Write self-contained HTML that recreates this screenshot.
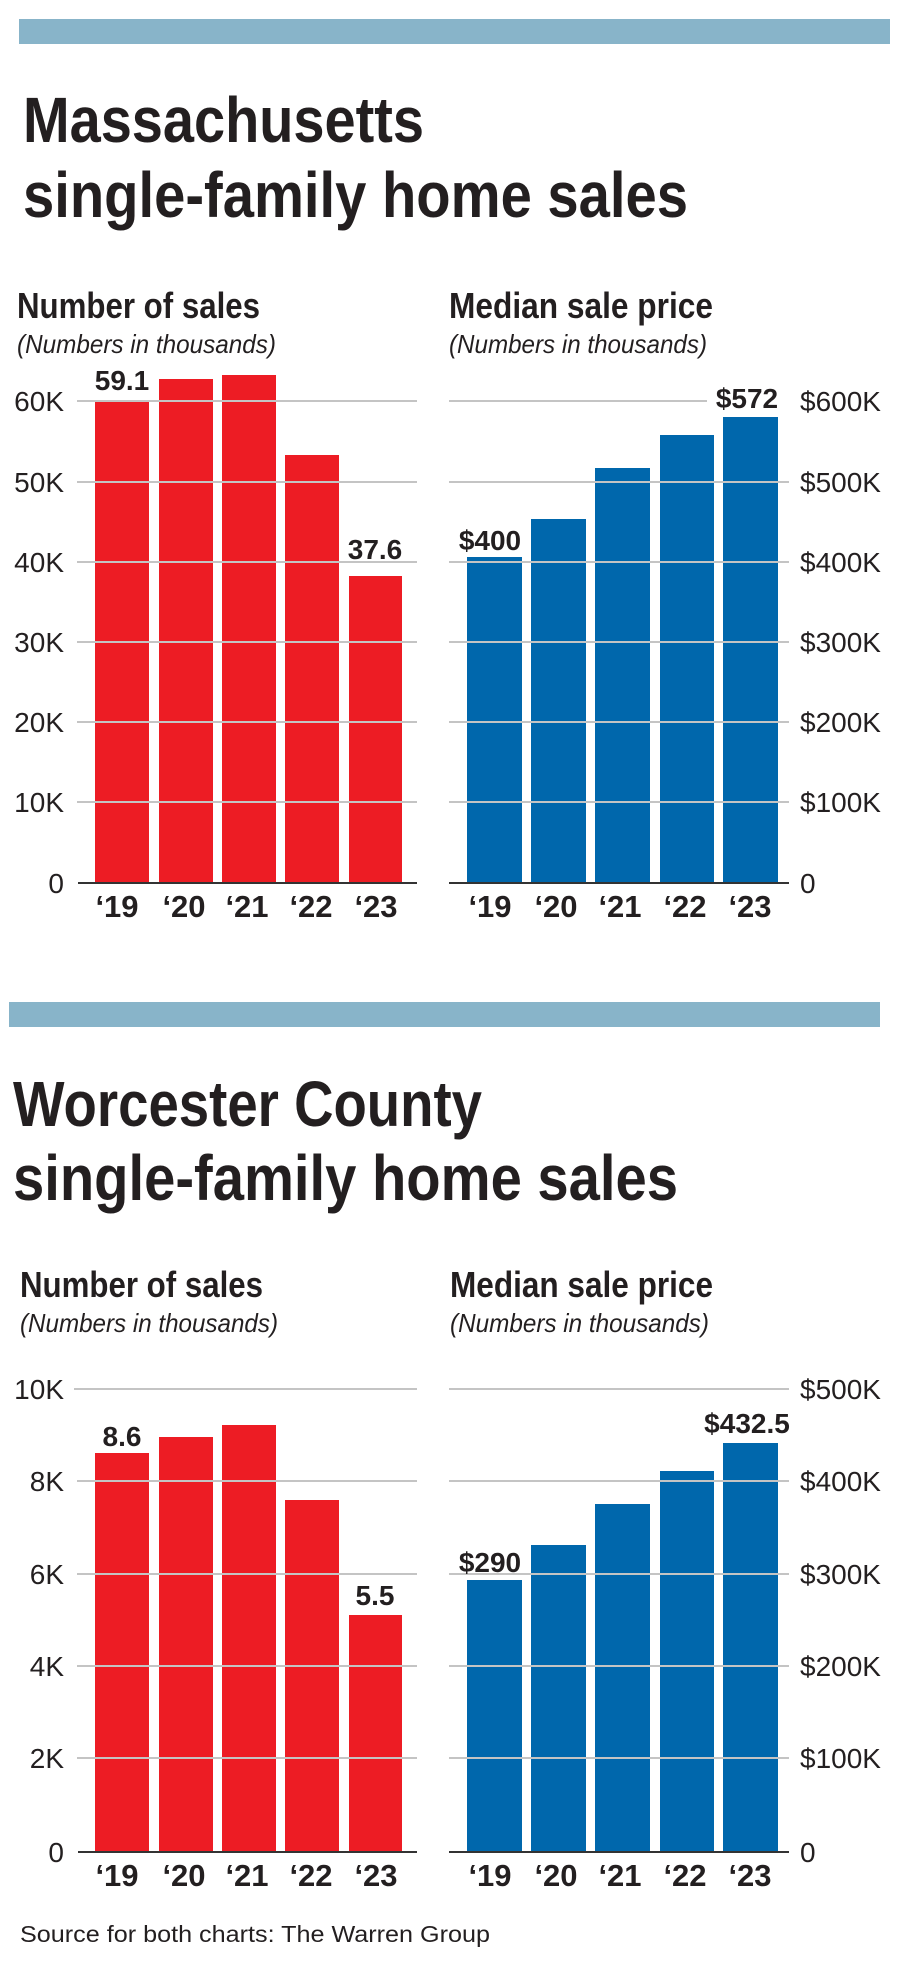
<!DOCTYPE html>
<html><head><meta charset="utf-8"><style>
html,body{margin:0;padding:0;background:#fff;}
svg{display:block;}
text{font-family:"Liberation Sans",sans-serif;fill:#231f20;}
.t{font-weight:bold;font-size:64px;}
.h{font-weight:bold;font-size:36px;}
.s{font-style:italic;font-size:26px;}
.k{font-size:28px;}
.v{font-weight:bold;font-size:28px;}
.x{font-weight:bold;font-size:31px;}
</style></head><body>
<svg width="900" height="1967" viewBox="0 0 900 1967" xmlns="http://www.w3.org/2000/svg">
<rect x="19" y="19" width="871" height="25" fill="#88b4c9"/>
<text class="t" x="23" y="142" textLength="401" lengthAdjust="spacingAndGlyphs">Massachusetts</text>
<text class="t" x="23" y="217" textLength="665" lengthAdjust="spacingAndGlyphs">single-family home sales</text>
<text class="h" x="17" y="318" textLength="243" lengthAdjust="spacingAndGlyphs">Number of sales</text>
<text class="s" x="17" y="353" textLength="259" lengthAdjust="spacingAndGlyphs">(Numbers in thousands)</text>
<text class="h" x="449" y="318" textLength="264" lengthAdjust="spacingAndGlyphs">Median sale price</text>
<text class="s" x="449" y="353" textLength="258" lengthAdjust="spacingAndGlyphs">(Numbers in thousands)</text>

<g fill="#ed1c24">
<rect x="95" y="401" width="54" height="482"/>
<rect x="159" y="379" width="54" height="504"/>
<rect x="222" y="375" width="54" height="508"/>
<rect x="285" y="455" width="54" height="428"/>
<rect x="349" y="576" width="53" height="307"/>
</g>
<g stroke="#c4c4c4" stroke-width="2">
<line x1="77" y1="401" x2="417" y2="401"/>
<line x1="77" y1="482" x2="417" y2="482"/>
<line x1="77" y1="562" x2="417" y2="562"/>
<line x1="77" y1="642" x2="417" y2="642"/>
<line x1="77" y1="722" x2="417" y2="722"/>
<line x1="77" y1="802" x2="417" y2="802"/>
</g>
<line x1="78" y1="883" x2="417" y2="883" stroke="#333" stroke-width="2"/>
<g text-anchor="end">
<text class="k" x="64" y="411">60K</text>
<text class="k" x="64" y="492">50K</text>
<text class="k" x="64" y="572">40K</text>
<text class="k" x="64" y="652">30K</text>
<text class="k" x="64" y="732">20K</text>
<text class="k" x="64" y="812">10K</text>
<text class="k" x="64" y="893">0</text>
</g>
<text class="v" x="122" y="390" text-anchor="middle">59.1</text>
<text class="v" x="375" y="559" text-anchor="middle">37.6</text>
<g text-anchor="middle">
<text class="x" x="117" y="917">‘19</text>
<text class="x" x="184" y="917">‘20</text>
<text class="x" x="247" y="917">‘21</text>
<text class="x" x="311" y="917">‘22</text>
<text class="x" x="376" y="917">‘23</text>
</g>

<g fill="#0067ac">
<rect x="467" y="557" width="55" height="326"/>
<rect x="531" y="519" width="55" height="364"/>
<rect x="595" y="468" width="55" height="415"/>
<rect x="660" y="435" width="54" height="448"/>
<rect x="723" y="417" width="55" height="466"/>
</g>
<g stroke="#c4c4c4" stroke-width="2">
<line x1="449" y1="401" x2="707" y2="401"/>
<line x1="449" y1="482" x2="789" y2="482"/>
<line x1="449" y1="562" x2="789" y2="562"/>
<line x1="449" y1="642" x2="789" y2="642"/>
<line x1="449" y1="722" x2="789" y2="722"/>
<line x1="449" y1="802" x2="789" y2="802"/>
</g>
<line x1="449" y1="883" x2="789" y2="883" stroke="#333" stroke-width="2"/>
<text class="k" x="800" y="411">$600K</text>
<text class="k" x="800" y="492">$500K</text>
<text class="k" x="800" y="572">$400K</text>
<text class="k" x="800" y="652">$300K</text>
<text class="k" x="800" y="732">$200K</text>
<text class="k" x="800" y="812">$100K</text>
<text class="k" x="800" y="893">0</text>
<text class="v" x="490" y="550" text-anchor="middle">$400</text>
<text class="v" x="747" y="408" text-anchor="middle">$572</text>
<g text-anchor="middle">
<text class="x" x="490" y="917">‘19</text>
<text class="x" x="556" y="917">‘20</text>
<text class="x" x="620" y="917">‘21</text>
<text class="x" x="685" y="917">‘22</text>
<text class="x" x="750" y="917">‘23</text>
</g>

<rect x="9" y="1002" width="871" height="25" fill="#88b4c9"/>
<text class="t" x="13" y="1126" textLength="469" lengthAdjust="spacingAndGlyphs">Worcester County</text>
<text class="t" x="13" y="1200" textLength="665" lengthAdjust="spacingAndGlyphs">single-family home sales</text>
<text class="h" x="20" y="1297" textLength="243" lengthAdjust="spacingAndGlyphs">Number of sales</text>
<text class="s" x="20" y="1332" textLength="258" lengthAdjust="spacingAndGlyphs">(Numbers in thousands)</text>
<text class="h" x="450" y="1297" textLength="263" lengthAdjust="spacingAndGlyphs">Median sale price</text>
<text class="s" x="450" y="1332" textLength="259" lengthAdjust="spacingAndGlyphs">(Numbers in thousands)</text>

<g fill="#ed1c24">
<rect x="95" y="1453" width="54" height="399"/>
<rect x="159" y="1437" width="54" height="415"/>
<rect x="222" y="1425" width="54" height="427"/>
<rect x="285" y="1500" width="54" height="352"/>
<rect x="349" y="1615" width="53" height="237"/>
</g>
<g stroke="#c4c4c4" stroke-width="2">
<line x1="74" y1="1389" x2="417" y2="1389"/>
<line x1="77" y1="1481" x2="417" y2="1481"/>
<line x1="77" y1="1574" x2="417" y2="1574"/>
<line x1="77" y1="1666" x2="417" y2="1666"/>
<line x1="77" y1="1758" x2="417" y2="1758"/>
</g>
<line x1="78" y1="1852" x2="417" y2="1852" stroke="#333" stroke-width="2"/>
<g text-anchor="end">
<text class="k" x="64" y="1399">10K</text>
<text class="k" x="64" y="1491">8K</text>
<text class="k" x="64" y="1584">6K</text>
<text class="k" x="64" y="1676">4K</text>
<text class="k" x="64" y="1768">2K</text>
<text class="k" x="64" y="1862">0</text>
</g>
<text class="v" x="122" y="1446" text-anchor="middle">8.6</text>
<text class="v" x="375" y="1605" text-anchor="middle">5.5</text>
<g text-anchor="middle">
<text class="x" x="117" y="1886">‘19</text>
<text class="x" x="184" y="1886">‘20</text>
<text class="x" x="247" y="1886">‘21</text>
<text class="x" x="311" y="1886">‘22</text>
<text class="x" x="376" y="1886">‘23</text>
</g>

<g fill="#0067ac">
<rect x="467" y="1580" width="55" height="272"/>
<rect x="531" y="1545" width="55" height="307"/>
<rect x="595" y="1504" width="55" height="348"/>
<rect x="660" y="1471" width="54" height="381"/>
<rect x="723" y="1443" width="55" height="409"/>
</g>
<g stroke="#c4c4c4" stroke-width="2">
<line x1="449" y1="1389" x2="789" y2="1389"/>
<line x1="449" y1="1481" x2="789" y2="1481"/>
<line x1="449" y1="1574" x2="789" y2="1574"/>
<line x1="449" y1="1666" x2="789" y2="1666"/>
<line x1="449" y1="1758" x2="789" y2="1758"/>
</g>
<line x1="449" y1="1852" x2="789" y2="1852" stroke="#333" stroke-width="2"/>
<text class="k" x="800" y="1399">$500K</text>
<text class="k" x="800" y="1491">$400K</text>
<text class="k" x="800" y="1584">$300K</text>
<text class="k" x="800" y="1676">$200K</text>
<text class="k" x="800" y="1768">$100K</text>
<text class="k" x="800" y="1862">0</text>
<text class="v" x="490" y="1572" text-anchor="middle">$290</text>
<text class="v" x="747" y="1433" text-anchor="middle">$432.5</text>
<g text-anchor="middle">
<text class="x" x="490" y="1886">‘19</text>
<text class="x" x="556" y="1886">‘20</text>
<text class="x" x="620" y="1886">‘21</text>
<text class="x" x="685" y="1886">‘22</text>
<text class="x" x="750" y="1886">‘23</text>
</g>

<text x="20" y="1942" font-size="23" textLength="470" lengthAdjust="spacingAndGlyphs">Source for both charts: The Warren Group</text>
</svg>
</body></html>
